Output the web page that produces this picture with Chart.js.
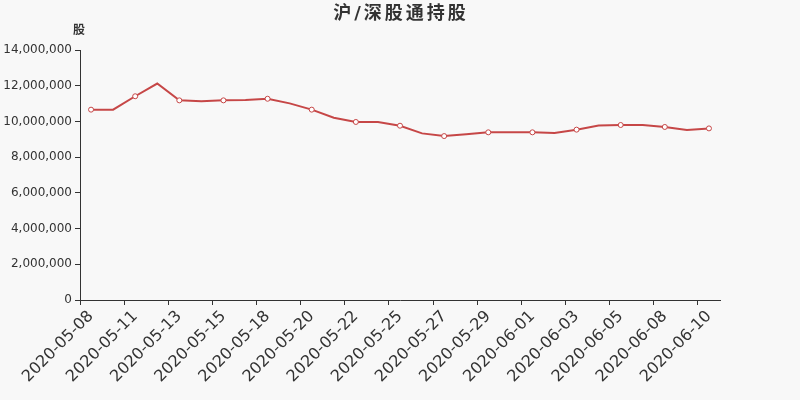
<!DOCTYPE html>
<html>
<head>
<meta charset="utf-8">
<script src="https://cdn.jsdelivr.net/npm/chart.js@4"></script>
<style>
  html, body { margin: 0; padding: 0; background: #f8f8f8; }
  #wrap { width: 800px; height: 400px; }
</style>
</head>
<body>
<div id="wrap"><canvas id="myChart" width="800" height="400"></canvas></div>
<script>
// dates (every other one gets a label + marker)
const dates = [
  '2020-05-08', '2020-05-09', '2020-05-11', '2020-05-12', '2020-05-13', '2020-05-14',
  '2020-05-15', '2020-05-16', '2020-05-18', '2020-05-19', '2020-05-20', '2020-05-21',
  '2020-05-22', '2020-05-23', '2020-05-25', '2020-05-26', '2020-05-27', '2020-05-28',
  '2020-05-29', '2020-05-30', '2020-06-01', '2020-06-02', '2020-06-03', '2020-06-04',
  '2020-06-05', '2020-06-06', '2020-06-08', '2020-06-09', '2020-06-10'
];
// 持股数量 (股)
const shares = [
  10660000, 10660000, 11410000, 12120000, 11180000, 11130000,
  11180000, 11200000, 11270000, 11010000, 10660000, 10210000,
  9970000, 9970000, 9760000, 9330000, 9180000, 9280000,
  9390000, 9390000, 9390000, 9350000, 9540000, 9770000,
  9800000, 9800000, 9690000, 9520000, 9610000
];
const yTicks = { min: 0, max: 14000000, step: 2000000 };

const textColor = '#333';
const lineColor = '#c64747';

// background + titles drawn straight on the canvas
const extras = {
  id: 'extras',
  beforeDraw(chart) {
    const c = chart.ctx;
    c.save();
    c.fillStyle = '#f8f8f8';
    c.fillRect(0, 0, chart.width, chart.height);
    c.restore();
  },
  afterDraw(chart) {
    const c = chart.ctx;
    c.save();
    c.fillStyle = textColor;
    c.textAlign = 'center';
    c.textBaseline = 'middle';
    c.font = 'bold 18px "DejaVu Sans", "Noto Sans CJK SC"';
    c.letterSpacing = '3px';
    c.fillText('沪/深股通持股', 401, 14);
    c.letterSpacing = '0px';
    c.font = 'bold 12px "Noto Sans CJK SC"';
    c.fillText('股', 79, 29);
    c.restore();
  }
};

const config = {
  type: 'line',
  data: {
    labels: dates,
    datasets: [{
      data: shares,
      borderColor: lineColor,
      borderWidth: 2,
      backgroundColor: '#fff',
      pointBackgroundColor: '#fff',
      pointBorderColor: lineColor,
      pointBorderWidth: 1,
      pointRadius: ctx => ctx.dataIndex % 2 === 0 ? 2.5 : 0,
      pointHoverRadius: 0,
      tension: 0,
      fill: false
    }]
  },
  options: {
    responsive: false,
    animation: false,
    events: [],
    layout: { padding: { top: 50, right: 80, left: 0, bottom: 0 } },
    plugins: {
      legend: { display: false },
      title: { display: false },
      tooltip: { enabled: false }
    },
    scales: {
      x: {
        offset: true,
        grid: {
          offset: true,
          drawOnChartArea: false,
          drawTicks: true,
          tickLength: 5,
          tickColor: ctx => ctx.index % 2 === 0 ? textColor : 'rgba(0,0,0,0)'
        },
        border: { color: textColor, width: 1 },
        ticks: {
          autoSkip: false,
          maxRotation: 45,
          minRotation: 45,
          padding: 2,
          color: textColor,
          font: { family: '"DejaVu Sans"', size: 16 },
          callback: (v, i) => i % 2 === 0 ? dates[i] : ''
        },
        afterFit: s => { s.height = 100; }
      },
      y: {
        min: yTicks.min,
        max: yTicks.max,
        grid: {
          drawOnChartArea: false,
          drawTicks: true,
          tickLength: 5,
          tickColor: textColor
        },
        border: { color: textColor, width: 1 },
        ticks: {
          stepSize: yTicks.step,
          padding: 3,
          color: textColor,
          font: { family: '"DejaVu Sans"', size: 12 },
          callback: v => v.toLocaleString('en-US')
        },
        afterFit: s => { s.width = 80; }
      }
    }
  },
  plugins: [extras]
};

const chart = new Chart('myChart', config);
</script>
</body>
</html>
